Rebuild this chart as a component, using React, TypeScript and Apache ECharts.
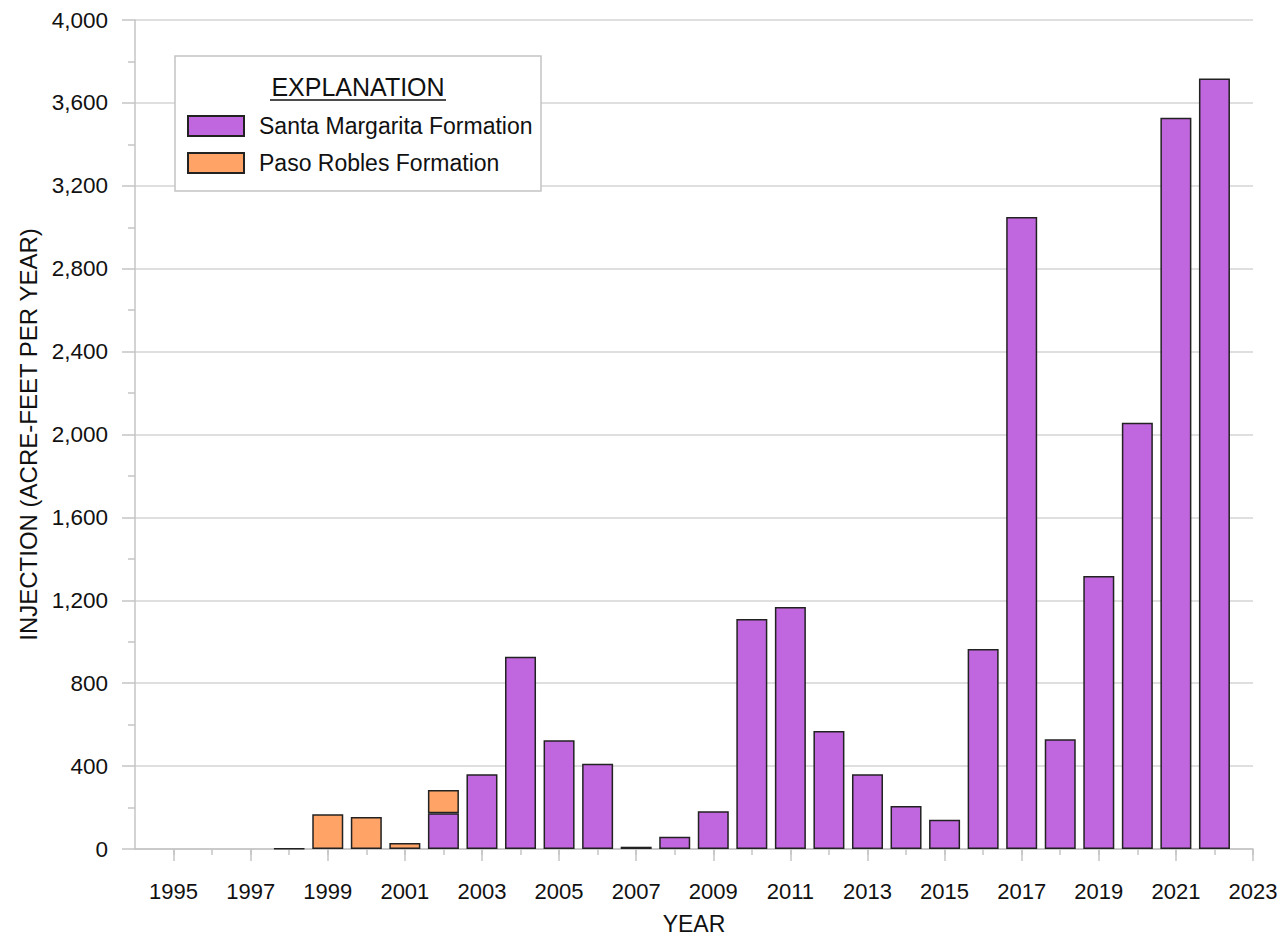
import React, { useEffect, useRef } from "react";
import * as echarts from "echarts";

// Axis categories (years shown on the x axis)
const years: string[] = [];
for (let y = 1994; y <= 2023; y++) years.push(String(y));

// Data years and values (acre-feet per year)
const dataYears = [1998, 1999, 2000, 2001, 2002, 2003, 2004, 2005, 2006, 2007, 2008, 2009, 2010, 2011, 2012, 2013, 2014, 2015, 2016, 2017, 2018, 2019, 2020, 2021, 2022];
const santaMargarita = [0, 0, 0, 0, 173, 361, 928, 525, 411, 11, 59, 182, 1110, 1168, 569, 361, 208, 141, 965, 3049, 530, 1317, 2057, 3528, 3718];
const pasoRobles = [2, 168, 155, 29, 112, 0, 0, 0, 0, 0, 0, 0, 0, 0, 0, 0, 0, 0, 0, 0, 0, 0, 0, 0, 0];

const FONT = "'Liberation Sans', Arial, sans-serif";
const AXIS_GRAY = "#c4c4c4";

function toSeries(vals: number[]) {
  return years.map((y) => {
    const i = dataYears.indexOf(Number(y));
    if (i < 0) return null;
    return vals[i] === 0 ? null : vals[i];
  });
}

export default function App() {
  const ref = useRef<HTMLDivElement>(null);
  useEffect(() => {
    if (!ref.current) return;
    const chart = echarts.init(ref.current, null, { renderer: "svg" });
    const itemBorder = { borderColor: "#222", borderWidth: 1.5 };
    chart.setOption({
      animation: false,
      backgroundColor: "#fff",
      textStyle: { fontFamily: FONT },
      grid: { left: 135, right: 28, top: 20, bottom: 86.7, containLabel: false },
      xAxis: [
        {
          type: "category",
          data: years,
          boundaryGap: false,
          axisLine: { lineStyle: { color: AXIS_GRAY, width: 1.5 } },
          axisTick: {
            show: true,
            length: 6,
            interval: (i: number) => i > 0,
            lineStyle: { color: AXIS_GRAY, width: 1.5 },
          },
          axisLabel: { show: false },
          splitLine: { show: false },
        },
        {
          type: "category",
          data: years,
          boundaryGap: false,
          position: "bottom",
          axisLine: { show: false },
          axisTick: {
            show: true,
            length: 12,
            interval: (i: number) => Number(years[i]) % 2 === 1,
            lineStyle: { color: AXIS_GRAY, width: 1.5 },
          },
          axisLabel: {
            show: true,
            interval: (i: number) => Number(years[i]) % 2 === 1,
            margin: 31,
            fontSize: 22,
            color: "#111",
            fontFamily: FONT,
          },
          name: "YEAR",
          nameLocation: "middle",
          nameGap: 63,
          nameTextStyle: { fontSize: 23, color: "#111", fontFamily: FONT },
        },
      ],
      yAxis: {
        type: "value",
        min: 0,
        max: 4000,
        interval: 400,
        axisLine: { show: true, lineStyle: { color: AXIS_GRAY, width: 1.5 } },
        axisTick: { show: true, length: 13, lineStyle: { color: AXIS_GRAY, width: 1.5 } },
        minorTick: { show: true, splitNumber: 2, length: 7, lineStyle: { color: AXIS_GRAY, width: 1.5 } },
        splitLine: { show: true, lineStyle: { color: "#d4d4d4", width: 1.5 } },
        axisLabel: {
          fontSize: 22.5,
          color: "#111",
          margin: 27,
          fontFamily: FONT,
          formatter: (v: number) => v.toLocaleString("en-US"),
        },
        name: "INJECTION (ACRE-FEET PER YEAR)",
        nameLocation: "middle",
        nameGap: 92,
        nameTextStyle: { fontSize: 24, color: "#111", fontFamily: FONT },
      },
      legend: {
        orient: "vertical",
        left: 187,
        top: 114.5,
        padding: 0,
        itemWidth: 56,
        itemHeight: 20,
        itemGap: 14,
        z: 20,
        icon: "rect",
        data: ["Santa Margarita Formation", "Paso Robles Formation"],
        textStyle: { fontSize: 23, color: "#111", fontFamily: FONT, padding: [0, 0, 0, 10] },
      },
      graphic: [
        {
          type: "rect",
          z: 10,
          shape: { x: 175, y: 56, width: 366, height: 135 },
          style: { fill: "#fff", stroke: AXIS_GRAY, lineWidth: 1.5 },
        },
        {
          type: "text",
          z: 11,
          x: 358,
          y: 87,
          style: {
            text: "EXPLANATION",
            fontSize: 25,
            fontFamily: FONT,
            fill: "#111",
            align: "center",
            verticalAlign: "middle",
          },
        },
        {
          type: "line",
          z: 11,
          shape: { x1: 270, y1: 100, x2: 446, y2: 100 },
          style: { stroke: "#111", lineWidth: 1.5 },
        },
      ],
      series: [
        {
          name: "Santa Margarita Formation",
          type: "bar",
          stack: "total",
          barWidth: 31,
          itemStyle: { color: "#c066de", ...itemBorder },
          data: toSeries(santaMargarita),
        },
        {
          name: "Paso Robles Formation",
          type: "bar",
          stack: "total",
          barWidth: 31,
          itemStyle: { color: "#ffa466", ...itemBorder },
          data: toSeries(pasoRobles),
        },
      ],
    });
    return () => chart.dispose();
  }, []);
  return (
    <div
      ref={ref}
      style={{ position: "fixed", left: 0, top: 0, width: 1281, height: 940 }}
    />
  );
}
